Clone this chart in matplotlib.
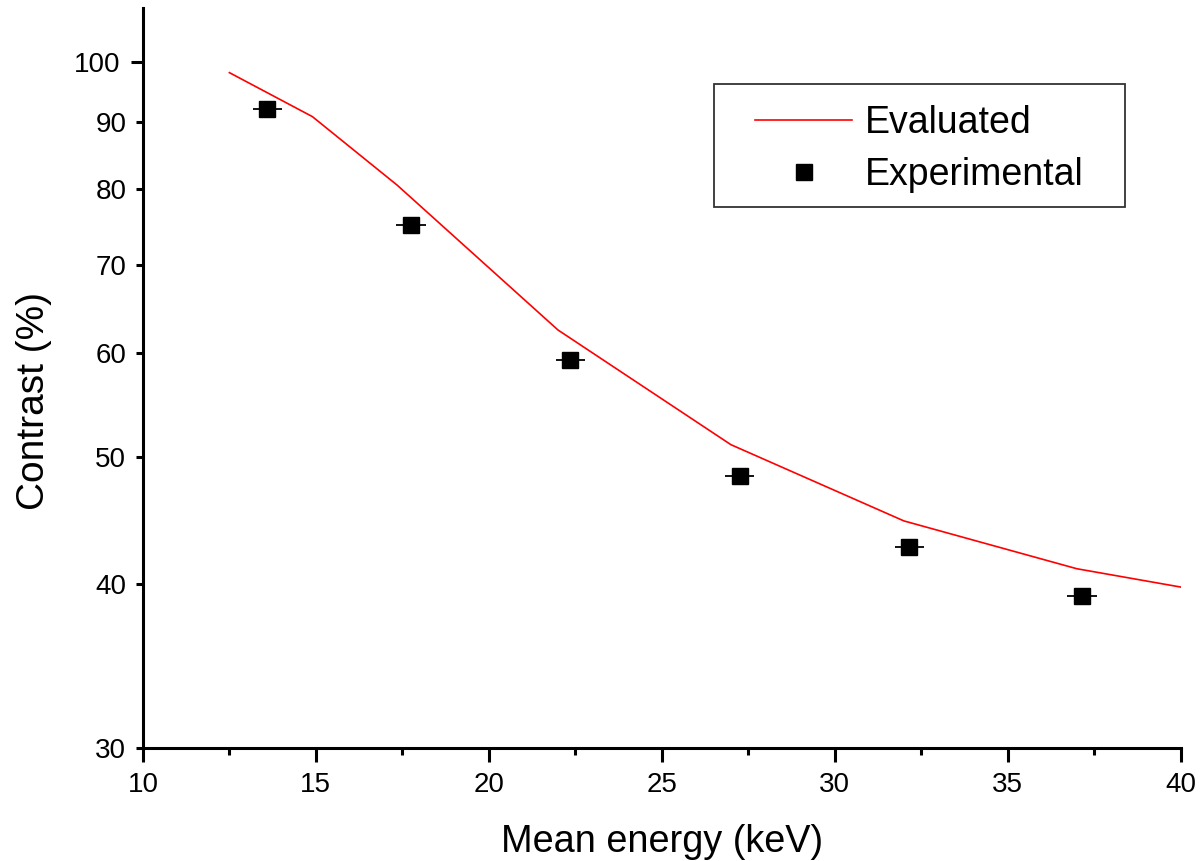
import numpy as np
import matplotlib.pyplot as plt
from matplotlib.patches import Rectangle
from matplotlib.ticker import FixedLocator, FixedFormatter

plt.rcParams['font.family'] = ['Liberation Sans', 'DejaVu Sans']

# evaluated contrast curve (polyline)
eval_energy = [12.5, 14.9, 17.35, 22.0, 27.0, 32.0, 37.0, 40.0]
eval_contrast = [98.2, 90.9, 80.6, 62.5, 51.1, 44.7, 41.1, 39.8]

# experimental points with horizontal error bars
exp_energy = [13.6, 17.75, 22.35, 27.25, 32.15, 37.15]
exp_contrast = [92.1, 75.1, 59.3, 48.4, 42.7, 39.2]
exp_err = [0.42, 0.42, 0.42, 0.42, 0.42, 0.42]

y_ticks = [30, 40, 50, 60, 70, 80, 90, 100]
x_ticks = [10, 15, 20, 25, 30, 35, 40]

fig = plt.figure(figsize=(12.01, 8.61), dpi=100)
ax = fig.add_axes([0.119, 0.1312, 0.864, 0.8595])

ax.plot(eval_energy, eval_contrast, '-', color='red', linewidth=1.2, label='Evaluated')
ax.errorbar(exp_energy, exp_contrast, xerr=exp_err, fmt='none', ecolor='black',
            elinewidth=1.3, capsize=0)
ax.plot(exp_energy, exp_contrast, 's', color='black', markersize=11, linestyle='none',
        label='Experimental')

ax.set_yscale('log')
ax.set_xlim(10, 40)
ax.set_ylim(30, 110)

ax.xaxis.set_major_locator(FixedLocator(x_ticks))
ax.xaxis.set_minor_locator(FixedLocator(np.arange(12.5, 40, 5)))
ax.set_xticklabels([str(v) for v in x_ticks])

# log axis: 100 is the decade (long tick), others short but labelled
ax.yaxis.set_major_locator(FixedLocator([100]))
ax.yaxis.set_major_formatter(FixedFormatter(['100']))
ax.yaxis.set_minor_locator(FixedLocator(y_ticks[:-1]))
ax.yaxis.set_minor_formatter(FixedFormatter([str(v) for v in y_ticks[:-1]]))

ax.tick_params(axis='both', which='both', direction='out', width=2.2, labelsize=20,
               colors='black')
ax.tick_params(axis='x', which='major', length=10, pad=7)
ax.tick_params(axis='x', which='minor', length=5)
ax.tick_params(axis='y', which='major', length=9, pad=7)
ax.tick_params(axis='y', which='minor', length=5, pad=7)

for side in ['top', 'right']:
    ax.spines[side].set_visible(False)
for side in ['left', 'bottom']:
    ax.spines[side].set_linewidth(2.2)

ax.set_xlabel('Mean energy (keV)', fontsize=27.3, labelpad=19)
ax.set_ylabel('Contrast (%)', fontsize=28)
ax.yaxis.set_label_coords(-0.088, 0.469)

# legend entries without frame, box drawn separately
leg = ax.legend(loc='center left', bbox_to_anchor=(0.6286, 0.827),
                bbox_transform=fig.transFigure, fontsize=27, frameon=False,
                borderpad=0, handlelength=2.6, handletextpad=0.32,
                labelspacing=0.41, borderaxespad=0)
box = Rectangle((0.5945, 0.7596), 0.3422, 0.1429, transform=fig.transFigure,
                fill=False, edgecolor='#333333', linewidth=1.3)
fig.add_artist(box)

fig.savefig('out.png', dpi=100)
